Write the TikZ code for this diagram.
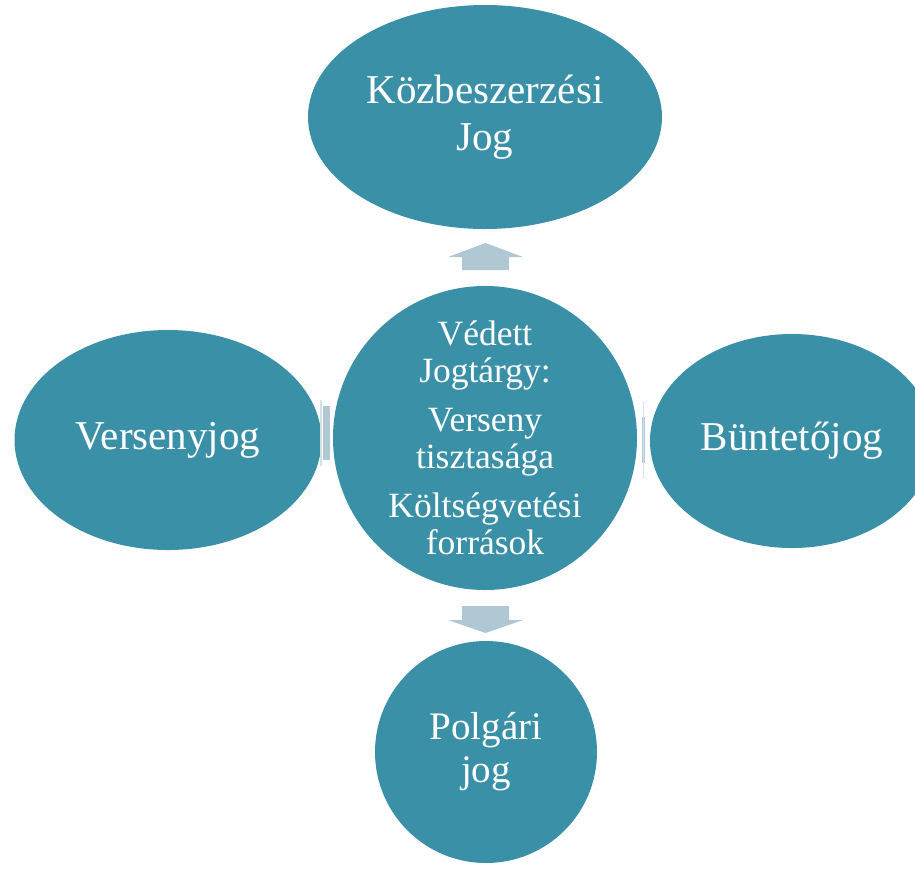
\documentclass[tikz,border=0pt]{standalone}
\usepackage{fontspec}
\setmainfont{Liberation Serif}
\usetikzlibrary{shapes.geometric}
\definecolor{tealfill}{HTML}{3A90A7}
\definecolor{arrfill}{HTML}{AFC8D3}
\begin{document}
\begin{tikzpicture}[x=1pt,y=-1pt,
  blob/.style={fill=tealfill,text=white,align=center,inner sep=0pt},
  outerbox/.style={blob,ellipse,font=\fontsize{41}{47}\selectfont},
  centerbox/.style={blob,circle,minimum size=304pt,font=\fontsize{35.5}{37}\selectfont},
  blockarrow/.style={fill=arrfill},
  faintarrow/.style={fill=arrfill!55}]
\useasboundingbox (0,0) rectangle (915,868);
\clip (0,0) rectangle (915,868);
\node[outerbox,minimum width=354pt,minimum height=224pt] (top) at (485,117) {Közbeszerzési\\Jog};
\node[outerbox,minimum width=307pt,minimum height=220pt] (left) at (168,440) {Versenyjog};
\node[outerbox,minimum width=284pt,minimum height=214pt] (right) at (792,441) {Büntetőjog};
\node[outerbox,circle,minimum size=222pt,font=\fontsize{39}{43}\selectfont] (bottom) at (486,752) {Polgári\\jog};
\node[centerbox] (mid) at (485,438) {Védett\\Jogtárgy:\\[12pt]Verseny\\tisztasága\\[12pt]Költségvetési\\források};
% up arrow
\coordinate (ua) at (485.5,270);
\fill[blockarrow] (ua) ++(-23.5,0) -- ++(0,-13) -- ++(-14,0) -- ++(37.5,-14) -- ++(37.5,14) -- ++(-14,0) -- ++(0,13) -- cycle;
% down arrow
\coordinate (da) at (485.5,606);
\fill[blockarrow] (da) ++(-23.5,0) -- ++(0,14) -- ++(-14,0) -- ++(37.5,13) -- ++(37.5,-13) -- ++(-14,0) -- ++(0,-14) -- cycle;
% left thin arrow
\coordinate (la) at (326,433);
\fill[blockarrow] (la) ++(-3,-27) rectangle ++(7,54);
\fill[faintarrow] (la) ++(-6,-33) rectangle ++(1.5,66);
% right thin arrow
\coordinate (ra) at (643,440);
\fill[blockarrow] (ra) ++(-1.5,-23) rectangle ++(3.5,46);
\fill[faintarrow] (ra) ++(0,-38) rectangle ++(1.2,76);
\end{tikzpicture}
\end{document}
